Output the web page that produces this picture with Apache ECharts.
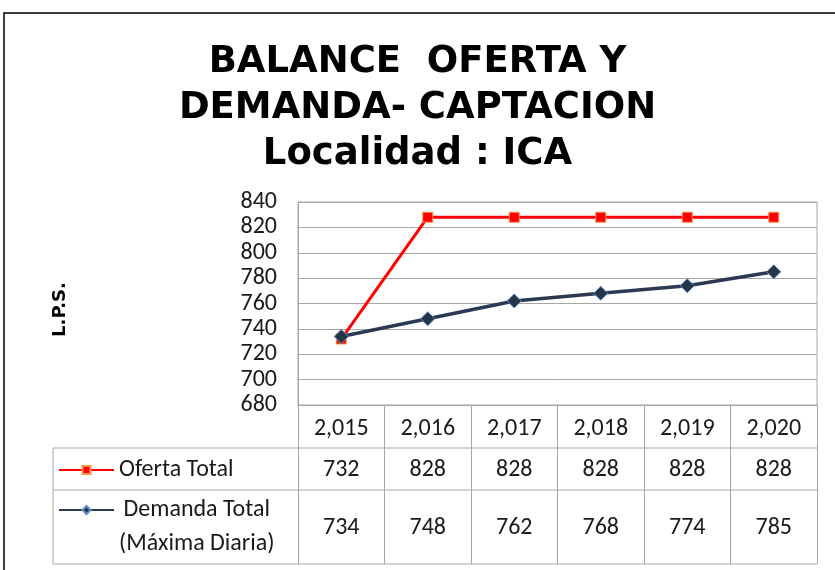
<!DOCTYPE html>
<html>
<head>
<meta charset="utf-8">
<script src="https://cdn.jsdelivr.net/npm/echarts@6/dist/echarts.min.js"></script>
<style>
  html, body { margin: 0; padding: 0; background: #fff; }
  #chart { width: 835px; height: 570px; }
</style>
</head>
<body>
<div id="chart"></div>
<script>
const years = ["2,015", "2,016", "2,017", "2,018", "2,019", "2,020"];
const oferta = [732, 828, 828, 828, 828, 828];
const demanda = [734, 748, 762, 768, 774, 785];
const ofertaName = "Oferta Total";
const demandaName = "Demanda Total\n(Máxima Diaria)";
const yTicks = { min: 680, max: 840, interval: 20 };

const FONT = 'Carlito, "Liberation Sans Narrow", "DejaVu Sans Condensed", sans-serif';
const GRID_LINE = "#a6a6a6";
const TXT = "#1a1a1a";

const chart = echarts.init(document.getElementById("chart"));

chart.setOption({
  backgroundColor: "#fff",
  title: {
    text: "BALANCE  OFERTA Y\nDEMANDA- CAPTACION\nLocalidad : ICA",
    left: "center",
    top: 34,
    textStyle: {
      fontFamily: '"DejaVu Sans", sans-serif',
      fontWeight: "bold",
      fontSize: 37,
      lineHeight: 46,
      color: "#000"
    }
  },
  legend: [
    {
      data: [ofertaName],
      left: 53,
      top: 453,
      itemWidth: 55,
      itemHeight: 10,
      selectedMode: false,
      textStyle: { fontFamily: FONT, fontSize: 24, color: TXT }
    },
    {
      data: [demandaName],
      left: 53,
      top: 454,
      itemWidth: 55,
      itemHeight: 10,
      selectedMode: false,
      // blank first line keeps the icon level with "Demanda Total"
      formatter: (name) => "\n" + name.split("\n").map((s) => "{c|" + s + "}").join("\n"),
      textStyle: {
        fontFamily: FONT, fontSize: 24, lineHeight: 34, color: TXT,
        rich: { c: { fontFamily: FONT, fontSize: 24, lineHeight: 34, color: TXT, align: "center" } }
      }
    }
  ],
  grid: {
    left: 298, right: 18, top: 202, bottom: 165,
    show: true, borderColor: GRID_LINE, borderWidth: 1,
    outerBoundsMode: "none"
  },
  xAxis: [
    {
      type: "category",
      data: years,
      boundaryGap: true,
      axisLine: { lineStyle: { color: GRID_LINE } },
      axisTick: { show: true, length: 159, lineStyle: { color: GRID_LINE } },
      axisLabel: { fontFamily: FONT, fontSize: 24, color: TXT, margin: 12 },
      splitLine: { show: false }
    },
    {
      type: "category",
      data: oferta.map(String),
      position: "bottom",
      offset: 43,
      axisLine: { show: false },
      axisTick: { show: false },
      axisLabel: { fontFamily: FONT, fontSize: 24, color: TXT, margin: 10 }
    },
    {
      type: "category",
      data: demanda.map(String),
      position: "bottom",
      offset: 85,
      axisLine: { show: false },
      axisTick: { show: false },
      axisLabel: { fontFamily: FONT, fontSize: 24, color: TXT, margin: 26 }
    }
  ],
  yAxis: {
    type: "value",
    min: yTicks.min,
    max: yTicks.max,
    interval: yTicks.interval,
    name: "L.P.S.",
    nameLocation: "middle",
    nameRotate: 90,
    nameGap: 229,
    nameTextStyle: {
      fontFamily: '"DejaVu Sans", sans-serif', fontWeight: "bold", fontSize: 18, color: "#000",
      padding: [0, 12, 0, 0]
    },
    axisLine: { show: true, lineStyle: { color: GRID_LINE } },
    axisTick: { show: false },
    axisLabel: { fontFamily: FONT, fontSize: 24, color: TXT, margin: 21 },
    splitLine: { lineStyle: { color: GRID_LINE, width: 1 } }
  },
  series: [
    {
      name: ofertaName,
      type: "line",
      data: oferta,
      symbol: "rect",
      symbolSize: 10,
      lineStyle: { color: "#ff0000", width: 3 },
      itemStyle: { color: "#ff0000", borderColor: "#f79646", borderWidth: 1 },
      z: 3
    },
    {
      name: demandaName,
      type: "line",
      data: demanda,
      symbol: "diamond",
      symbolSize: 14,
      lineStyle: { color: "#2b3a52", width: 3.5 },
      itemStyle: { color: "#263447", borderColor: "#5b8ac4", borderWidth: 1 },
      z: 4
    }
  ],
  graphic: [
    // outer chart frame
    { type: "rect", shape: { x: 4, y: 13, width: 900, height: 620 }, style: { fill: null, stroke: "#000", lineWidth: 1.5 }, silent: true },
    // table borders around the legend column
    { type: "line", shape: { x1: 53, y1: 448, x2: 817, y2: 448 }, style: { stroke: GRID_LINE, lineWidth: 1 }, silent: true },
    { type: "line", shape: { x1: 53, y1: 490, x2: 817, y2: 490 }, style: { stroke: GRID_LINE, lineWidth: 1 }, silent: true },
    { type: "line", shape: { x1: 53, y1: 564, x2: 817, y2: 564 }, style: { stroke: GRID_LINE, lineWidth: 1 }, silent: true },
    { type: "line", shape: { x1: 53, y1: 448, x2: 53, y2: 564 }, style: { stroke: GRID_LINE, lineWidth: 1 }, silent: true }
  ]
});
</script>
</body>
</html>
